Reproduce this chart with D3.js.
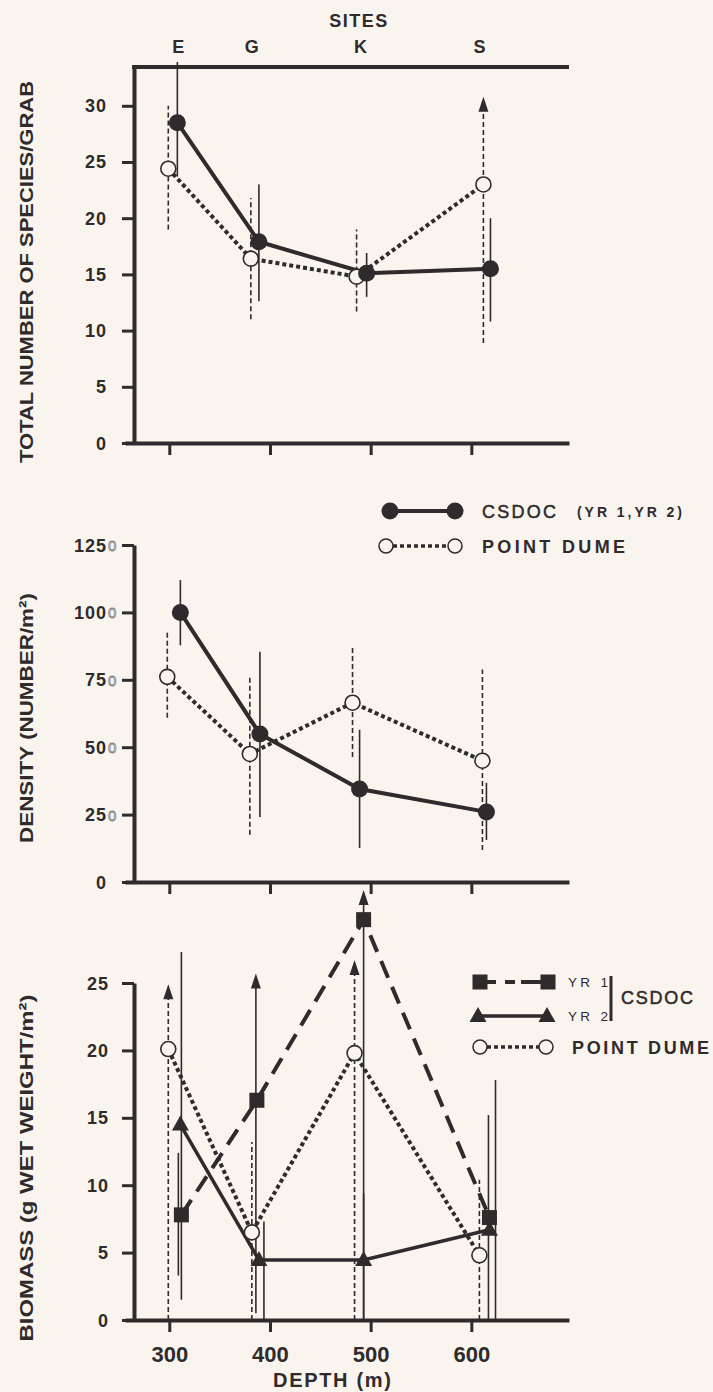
<!DOCTYPE html>
<html>
<head>
<meta charset="utf-8">
<script src="https://cdn.jsdelivr.net/npm/d3@7"></script>
<style>
  body { margin: 0; background: #f9f5ee; }
  svg { display: block; }
  text { font-family: "Liberation Sans", Arial, sans-serif; font-weight: bold; fill: #2f2a2c; }
</style>
</head>
<body>
<div id="graph"></div>
<script>
// ---- data ----
const depthTicks = [300, 400, 500, 600];
const sites = ['E', 'G', 'K', 'S'];
const siteDepth = [309, 382, 490, 608];

// species per grab
const speciesTicks = [0, 5, 10, 15, 20, 25, 30];
const spCsdocDepth = [308, 389, 496, 619];
const spCsdoc = [28.5, 17.9, 15.1, 15.5];
const spCsdocLo = [23.7, 12.6, 13.0, 10.8];
const spCsdocHi = [33.9, 23.0, 16.9, 20.0];
const spPdDepth = [299, 381, 486, 612];
const spPd = [24.4, 16.4, 14.8, 23.0];
const spPdLo = [19.0, 11.0, 11.7, 8.9];
const spPdHi = [30.0, 21.8, 19.0, 30.8];
const spPdArrow = [false, false, false, true];

// density
const densityTicks = [0, 25, 50, 75, 100, 125];
const denCsdocDepth = [311, 390, 489, 615];
const denCsdoc = [100, 54.9, 34.5, 26];
const denCsdocLo = [87.8, 24.1, 12.6, 15.6];
const denCsdocHi = [112, 85.4, 56.5, 36.8];
const denPdDepth = [298, 380, 482, 611];
const denPd = [76.1, 47.5, 66.5, 45];
const denPdLo = [60.9, 17.5, 46.4, 11.9];
const denPdHi = [92.5, 76.1, 87.3, 78.8];

// biomass
const biomassTicks = [0, 5, 10, 15, 20, 25];
const yr1Depth = [312, 387, 493, 618];
const yr1 = [7.8, 16.3, 29.7, 7.6];
const yr1BarDepth = [309, 386, 493, 624];
const yr1Lo = [3.3, 0.5, 0, 0];
const yr1Hi = [12.4, 25.7, 31.9, 17.8];
const yr1Arrow = [false, true, true, false];
const yr2Depth = [311, 389, 493, 618];
const yr2 = [14.5, 4.45, 4.45, 6.7];
const yr2BarDepth = [312, 394, 493, 617];
const yr2Lo = [1.5, 0, 0, 0];
const yr2Hi = [27.3, 7.3, 9.4, 15.2];
const bioPdDepth = [299, 382, 484, 608];
const bioPd = [20.1, 6.5, 19.8, 4.8];
const bioPdLo = [0, 0, 0, 0];
const bioPdHi = [24.9, 13.2, 26.7, 10.4];
const bioPdArrow = [true, false, true, false];

// ---- setup ----
const W = 713, H = 1392;
const ink = '#2f2a2c';
const paper = '#f9f5ee';

const svg = d3.select('#graph').append('svg')
  .attr('width', W).attr('height', H);
svg.append('rect').attr('width', W).attr('height', H).attr('fill', paper);

const x = d3.scaleLinear().domain([256, 697]).range([125, 569]);
const yAxisX = 134;

function rows(depth, v, lo, hi, arrow, barDepth) {
  return depth.map((d, i) => ({
    depth: d, v: v[i], lo: lo[i], hi: hi[i],
    arrow: arrow ? arrow[i] : false,
    bar: barDepth ? barDepth[i] : d
  }));
}

function drawAxes(cfg) {
  const y = d3.scaleLinear().domain(cfg.domain).range(cfg.range);
  const g = svg.append('g');

  const ya = g.append('g')
    .attr('transform', `translate(${yAxisX},0)`)
    .call(d3.axisLeft(y).tickValues(cfg.ticks).tickSize(12).tickSizeOuter(0).tickFormat(''));
  ya.select('.domain').attr('stroke', ink).attr('stroke-width', 4);
  ya.selectAll('.tick line').attr('stroke', ink).attr('stroke-width', 3);

  g.selectAll('.ylab').data(cfg.ticks).join('text')
    .attr('x', cfg.labelX).attr('y', d => y(d) + 6.5)
    .attr('text-anchor', 'end')
    .attr('font-size', 18).attr('letter-spacing', 1)
    .text(d => d);

  if (cfg.pencil) {
    // faint pencilled zeros next to the density labels
    g.selectAll('.pencil').data(cfg.ticks.filter(d => d > 0)).join('text')
      .attr('x', cfg.labelX + 1).attr('y', d => y(d) + 6)
      .attr('font-size', 15).style('font-weight', 'normal')
      .style('fill', 'none').attr('stroke', '#8c8c94').attr('stroke-width', 0.9)
      .text('0');
  }

  const xa = g.append('g')
    .attr('transform', `translate(0,${cfg.range[0]})`)
    .call(d3.axisBottom(x).tickValues(depthTicks).tickSize(12).tickSizeOuter(0)
      .tickFormat(cfg.xLabels ? d3.format('d') : ''));
  xa.select('.domain').attr('stroke', ink).attr('stroke-width', 4);
  xa.selectAll('.tick line').attr('stroke', ink).attr('stroke-width', 3);
  xa.selectAll('.tick text')
    .attr('y', 26).attr('font-size', 22).attr('fill', ink)
    .style('font-family', '"Liberation Sans", Arial, sans-serif').style('font-weight', 'bold');

  g.append('text')
    .attr('transform', `translate(33,${cfg.titleY}) rotate(-90)`)
    .attr('text-anchor', 'middle').attr('font-size', 19)
    .attr('textLength', cfg.titleLen).attr('lengthAdjust', 'spacingAndGlyphs')
    .text(cfg.title);
  return y;
}

function errorBars(y, data, dashed, width) {
  data.forEach(d => {
    const top = d.arrow ? y(d.hi) + 13 : y(d.hi);
    svg.append('line')
      .attr('x1', x(d.bar)).attr('x2', x(d.bar))
      .attr('y1', y(d.lo)).attr('y2', top)
      .attr('stroke', ink).attr('stroke-width', width || 1.6)
      .attr('stroke-dasharray', dashed ? '5,3' : null);
    if (d.arrow) {
      const tx = x(d.bar), ty = y(d.hi);
      svg.append('path')
        .attr('d', `M${tx},${ty}L${tx - 5},${ty + 15}L${tx + 5},${ty + 15}Z`)
        .attr('fill', ink);
    }
  });
}

function seriesLine(y, data, style) {
  svg.append('path')
    .attr('d', d3.line().x(d => x(d.depth)).y(d => y(d.v))(data))
    .attr('fill', 'none').attr('stroke', ink)
    .attr('stroke-width', style.width)
    .attr('stroke-dasharray', style.dash || null);
}

function markers(y, data, kind) {
  data.forEach(d => {
    const px = x(d.depth), py = y(d.v);
    if (kind === 'filled') {
      svg.append('circle').attr('cx', px).attr('cy', py).attr('r', 8.5).attr('fill', ink);
    } else if (kind === 'open') {
      svg.append('circle').attr('cx', px).attr('cy', py).attr('r', 7.5)
        .attr('fill', paper).attr('stroke', ink).attr('stroke-width', 1.6);
    } else if (kind === 'square') {
      svg.append('rect').attr('x', px - 7.5).attr('y', py - 7.5)
        .attr('width', 15).attr('height', 15).attr('fill', ink);
    } else if (kind === 'triangle') {
      svg.append('path')
        .attr('d', `M${px},${py - 9}L${px - 8.5},${py + 6}L${px + 8.5},${py + 6}Z`)
        .attr('fill', ink);
    }
  });
}

const solidStyle = { width: 4 };
const dotStyle = { width: 4, dash: '4,3' };
const longDash = { width: 4, dash: '18,10' };

// ---- panel 1: species ----
const y1 = drawAxes({
  domain: [0, 33.45], range: [443, 67], ticks: speciesTicks, labelX: 107,
  title: 'TOTAL NUMBER OF SPECIES/GRAB', titleY: 272, titleLen: 382
});
// top frame line
svg.append('line').attr('x1', yAxisX - 2).attr('x2', 569).attr('y1', 67).attr('y2', 67)
  .attr('stroke', ink).attr('stroke-width', 4);
svg.append('text').attr('x', 359).attr('y', 27).attr('text-anchor', 'middle')
  .attr('font-size', 18).attr('letter-spacing', 1.5).text('SITES');
svg.selectAll('.site').data(sites).join('text')
  .attr('x', (d, i) => x(siteDepth[i])).attr('y', 53)
  .attr('text-anchor', 'middle').attr('font-size', 18).text(d => d);

const spC = rows(spCsdocDepth, spCsdoc, spCsdocLo, spCsdocHi);
const spP = rows(spPdDepth, spPd, spPdLo, spPdHi, spPdArrow);
errorBars(y1, spP, true);
errorBars(y1, spC, false);
seriesLine(y1, spP, dotStyle);
seriesLine(y1, spC, solidStyle);
markers(y1, spP, 'open');
markers(y1, spC, 'filled');

// ---- panel 2: density ----
const y2 = drawAxes({
  domain: [0, 125], range: [882, 545], ticks: densityTicks, labelX: 107, pencil: true,
  title: 'DENSITY (NUMBER/m²)', titleY: 718, titleLen: 250
});
const dC = rows(denCsdocDepth, denCsdoc, denCsdocLo, denCsdocHi);
const dP = rows(denPdDepth, denPd, denPdLo, denPdHi);
errorBars(y2, dP, true);
errorBars(y2, dC, false);
seriesLine(y2, dP, dotStyle);
seriesLine(y2, dC, solidStyle);
markers(y2, dP, 'open');
markers(y2, dC, 'filled');

// legend panel 2
const lg2 = svg.append('g');
lg2.append('line').attr('x1', 390).attr('x2', 455).attr('y1', 511).attr('y2', 511)
  .attr('stroke', ink).attr('stroke-width', 4);
[390, 455].forEach(cx => lg2.append('circle').attr('cx', cx).attr('cy', 511).attr('r', 8.5).attr('fill', ink));
lg2.append('line').attr('x1', 386).attr('x2', 455).attr('y1', 546).attr('y2', 546)
  .attr('stroke', ink).attr('stroke-width', 3.5).attr('stroke-dasharray', '4,3');
[386, 455].forEach(cx => lg2.append('circle').attr('cx', cx).attr('cy', 546).attr('r', 7)
  .attr('fill', paper).attr('stroke', ink).attr('stroke-width', 1.5));
lg2.append('text').attr('x', 482).attr('y', 518).attr('font-size', 18)
  .attr('textLength', 74).style('font-weight', 'normal').attr('stroke', ink).attr('stroke-width', 0.5)
  .text('CSDOC');
lg2.append('text').attr('x', 577).attr('y', 517).attr('font-size', 14)
  .attr('textLength', 105).text('(YR 1,YR 2)');
lg2.append('text').attr('x', 482).attr('y', 553).attr('font-size', 18)
  .attr('textLength', 143).text('POINT DUME');

// ---- panel 3: biomass ----
const y3 = drawAxes({
  domain: [0, 25], range: [1320, 983], ticks: biomassTicks, labelX: 109, xLabels: true,
  title: 'BIOMASS (g WET WEIGHT/m²)', titleY: 1168, titleLen: 347
});
svg.append('text').attr('x', 332).attr('y', 1387).attr('text-anchor', 'middle')
  .attr('font-size', 20).attr('textLength', 118).text('DEPTH (m)');

const b1 = rows(yr1Depth, yr1, yr1Lo, yr1Hi, yr1Arrow, yr1BarDepth);
const b2 = rows(yr2Depth, yr2, yr2Lo, yr2Hi, null, yr2BarDepth);
const bP = rows(bioPdDepth, bioPd, bioPdLo, bioPdHi, bioPdArrow);
errorBars(y3, bP, true);
errorBars(y3, b1, false);
errorBars(y3, b2, false);
seriesLine(y3, bP, dotStyle);
seriesLine(y3, b2, { width: 3.5 });
seriesLine(y3, b1, longDash);
markers(y3, bP, 'open');
markers(y3, b2, 'triangle');
markers(y3, b1, 'square');

// legend panel 3
const lg3 = svg.append('g');
lg3.append('line').attr('x1', 480).attr('x2', 548).attr('y1', 982).attr('y2', 982)
  .attr('stroke', ink).attr('stroke-width', 4).attr('stroke-dasharray', '16,9,10,6,25');
[480, 548].forEach(cx => lg3.append('rect').attr('x', cx - 7.5).attr('y', 974.5)
  .attr('width', 15).attr('height', 15).attr('fill', ink));
lg3.append('line').attr('x1', 478).attr('x2', 547).attr('y1', 1016).attr('y2', 1016)
  .attr('stroke', ink).attr('stroke-width', 3.5);
[478, 547].forEach(cx => lg3.append('path')
  .attr('d', `M${cx},${1007}L${cx - 8.5},${1022}L${cx + 8.5},${1022}Z`).attr('fill', ink));
lg3.append('line').attr('x1', 480).attr('x2', 546).attr('y1', 1047).attr('y2', 1047)
  .attr('stroke', ink).attr('stroke-width', 3.5).attr('stroke-dasharray', '4,3');
[480, 546].forEach(cx => lg3.append('circle').attr('cx', cx).attr('cy', 1047).attr('r', 7)
  .attr('fill', paper).attr('stroke', ink).attr('stroke-width', 1.5));
lg3.append('text').attr('x', 568).attr('y', 987).attr('font-size', 13.5)
  .style('font-weight', 'normal').attr('textLength', 40).text('YR  1');
lg3.append('text').attr('x', 568).attr('y', 1021).attr('font-size', 13.5)
  .style('font-weight', 'normal').attr('textLength', 40).text('YR  2');
lg3.append('line').attr('x1', 611).attr('x2', 611).attr('y1', 976).attr('y2', 1021)
  .attr('stroke', ink).attr('stroke-width', 3);
lg3.append('text').attr('x', 621).attr('y', 1004).attr('font-size', 18)
  .style('font-weight', 'normal').attr('stroke', ink).attr('stroke-width', 0.5)
  .attr('textLength', 72).text('CSDOC');
lg3.append('text').attr('x', 572).attr('y', 1054).attr('font-size', 18)
  .attr('textLength', 137).text('POINT DUME');
</script>
</body>
</html>
